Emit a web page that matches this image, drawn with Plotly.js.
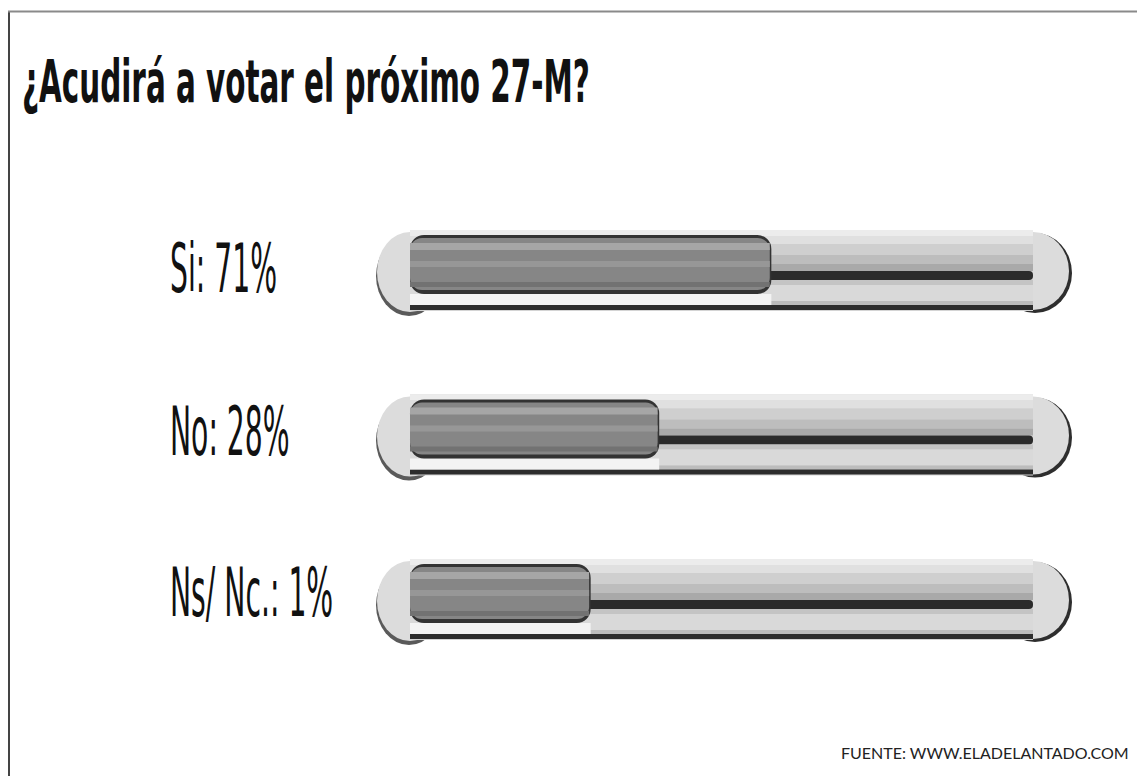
<!DOCTYPE html>
<html>
<head>
<meta charset="utf-8">
<script src="https://cdn.plot.ly/plotly-3.0.1.min.js"></script>
<style>
  html, body { margin: 0; padding: 0; background: #ffffff; }
  #chart { width: 1137px; height: 776px; }
</style>
</head>
<body>
<div id="chart"></div>
<script>
// ---------------- data ----------------
const titleText = '¿Acudirá a votar el próximo 27-M?';
const categories = ['Si', 'No', 'Ns/ Nc.'];
const labelPct = [71, 28, 1];            // percentages printed in the labels
const barFill = [58, 40, 29];            // drawn length of the dark fill, % of the track (as drawn)
const trackFull = [100, 100, 100];       // full track length
const sourceText = 'FUENTE: WWW.ELADELANTADO.COM';

// ---------------- geometry helpers ----------------
const W = 1137, H = 776;
const M = { l: 370, r: 62, t: 150, b: 56 };
const X0PX = 410, X100PX = 1033;                 // pixel of value 0 and 100
const PXPERX = (X100PX - X0PX) / 100;
const xRange = [(M.l - X0PX) / PXPERX, (W - M.r - X0PX) / PXPERX];
const PXU = 164.5;                                // pixels per row
const ROW0 = 271;                                 // pixel centre of first row
const plotTop = M.t, plotBot = H - M.b;
const yRange = [2 + (plotBot - (ROW0 + 2 * PXU)) / PXU, -(ROW0 - plotTop) / PXU];
const rows = categories.map((c, i) => i);
const zeros = categories.map(() => 0);

function stripe(starts, ends, top, bot, color, radius) {
  return {
    type: 'bar', orientation: 'h', y: rows,
    x: ends.map((e, i) => e - starts[i]), base: starts,
    offset: top / PXU, width: (bot - top) / PXU,
    marker: { color: color, line: { width: 0 }, cornerradius: radius || 0 },
    hoverinfo: 'skip', showlegend: false
  };
}
const fillEnd = barFill.map(v => v - 0.25);

const traces = [
  // track body (unfilled rod)
  stripe(zeros, trackFull, -41, 40, '#d4d4d4'),
  stripe(zeros, trackFull, -41, -35, '#ececec'),
  stripe(zeros, trackFull, -35, -27, '#e0e0e0'),
  stripe(zeros, trackFull, -27, -16, '#cfcfcf'),
  stripe(zeros, trackFull, -16, -7, '#bdbdbd'),
  stripe(zeros, trackFull, -7, 0, '#a9a9a9'),
  stripe(zeros, trackFull, 0, 9, '#2b2b2b', 4),
  stripe(zeros, trackFull, 9, 14, '#c4c4c4'),
  stripe(zeros, trackFull, 14, 30, '#d9d9d9'),
  stripe(zeros, trackFull, 30, 34, '#bcbcbc'),
  stripe(zeros, trackFull, 34, 39, '#2d2d2d'),
  // white gap under the fill
  stripe(zeros, barFill, 23, 34, '#f3f3f3'),
  // filled part
  stripe(zeros, barFill, -36, 23, '#333333', 14),
  stripe(zeros, fillEnd, -33, 19, '#868686', 12),
  stripe(zeros, fillEnd, -28, -21, '#a6a6a6'),
  stripe(zeros, fillEnd, -10, -4, '#979797'),
  stripe(zeros, fillEnd, 11, 16, '#727272')
];

// end caps of the rods (half hidden under the rod)
const shapes = [];
rows.forEach(r => {
  const cap = (cxPx, rx, ry, dx, dy, color) => ({
    type: 'circle', layer: 'below', xref: 'x', yref: 'y',
    x0: (cxPx + dx - rx - X0PX) / PXPERX, x1: (cxPx + dx + rx - X0PX) / PXPERX,
    y0: r + (dy - ry) / PXU, y1: r + (dy + ry) / PXU,
    fillcolor: color, line: { width: 0 }
  });
  shapes.push(cap(X0PX, 33, 40, -1, 5, '#5a5a5a'));
  shapes.push(cap(X0PX, 33, 40, 0, 1, '#dcdcdc'));
  shapes.push(cap(X100PX, 37, 40, 2, 2, '#2e2e2e'));
  shapes.push(cap(X100PX, 36, 39, 0, 0, '#dcdcdc'));
});

// frame lines (left and top)
const px2paperX = px => (px - M.l) / (W - M.l - M.r);
const py2paperY = py => (plotBot - py) / (plotBot - plotTop);
shapes.push({ type: 'line', xref: 'paper', yref: 'paper', layer: 'above',
  x0: px2paperX(9), x1: px2paperX(9), y0: py2paperY(11), y1: py2paperY(H + 5),
  line: { color: '#444444', width: 2 } });
shapes.push({ type: 'line', xref: 'paper', yref: 'paper', layer: 'above',
  x0: px2paperX(8), x1: px2paperX(W + 5), y0: py2paperY(11.5), y1: py2paperY(11.5),
  line: { color: '#8a8a8a', width: 2 } });

const labelFont = 'Liberation Sans Narrow, DejaVu Sans Condensed, sans-serif';
const annotations = categories.map((c, i) => ({
  xref: 'paper', yref: 'y', x: px2paperX(170), y: i - 3 / PXU,
  xanchor: 'left', yanchor: 'middle', showarrow: false,
  text: c + ': ' + labelPct[i] + '%',
  font: { family: labelFont, size: 36, color: '#111111' }
}));
annotations.push({
  xref: 'paper', yref: 'paper', x: px2paperX(1131), y: py2paperY(752),
  xanchor: 'right', yanchor: 'middle', showarrow: false,
  text: sourceText,
  font: { family: 'Lato, Open Sans, sans-serif', size: 16, color: '#222222' }
});

const layout = {
  width: W, height: H,
  margin: M,
  paper_bgcolor: '#ffffff', plot_bgcolor: '#ffffff',
  barmode: 'overlay',
  title: {
    text: titleText, x: 22 / W, xanchor: 'left', y: 1 - 82 / H, yanchor: 'middle',
    font: { family: labelFont, size: 38, color: '#111111', weight: 'bold' }
  },
  xaxis: { range: xRange, visible: false, fixedrange: true },
  yaxis: { range: yRange, visible: false, fixedrange: true },
  shapes: shapes,
  annotations: annotations,
  showlegend: false
};

// stretch the condensed text vertically like the original (real text kept)
function stretch(el, left, capCenterY, sx, sy) {
  const bb = el.getBBox();
  const ctm = el.parentNode.getCTM();
  const leftL = left - ctm.e, cyL = capCenterY - ctm.f;
  const tx = leftL - sx * bb.x;
  const ty = cyL - sy * (bb.y + bb.height / 2);
  el.setAttribute('transform', 'translate(' + tx + ',' + ty + ') scale(' + sx + ',' + sy + ')');
}

Plotly.newPlot('chart', traces, layout, { displayModeBar: false, staticPlot: true }).then(gd => {
  // title: fit into box 22..590, cap height 43 centred at y 82
  const t = gd.querySelector('.gtitle');
  if (t) {
    const bb = t.getBBox();
    const sx = (590 - 22) / bb.width;
    const sy = (43 / 0.63) / bb.height;
    stretch(t, 22, 82, sx, sy);
  }
  const labs = gd.querySelectorAll('.annotation-text');
  const centers = [269, 432, 593];
  if (labs.length >= 3) {
    const bb0 = labs[0].getBBox();
    const sx = (277 - 170) / bb0.width;
    const sy = (48 / 0.63) / bb0.height;
    for (let i = 0; i < 3; i++) stretch(labs[i], 170, centers[i], sx, sy);
  }
});
</script>
</body>
</html>
